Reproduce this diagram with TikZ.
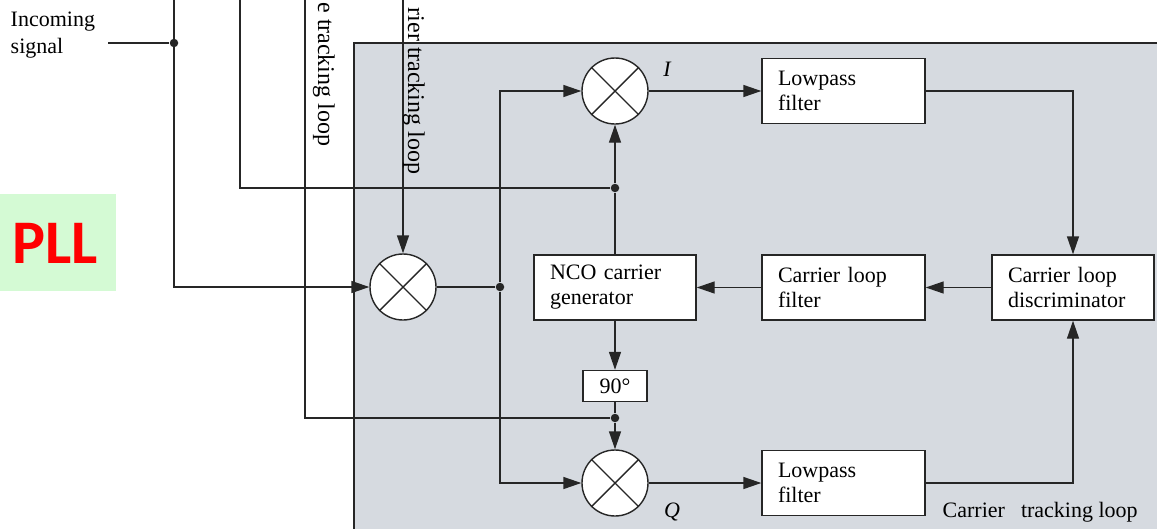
\documentclass[tikz,border=0pt]{standalone}
\usepackage{fontspec}
\setmainfont{Liberation Serif}
\newfontfamily\pllfont{Carlito}
\usetikzlibrary{arrows.meta}
\definecolor{panel}{RGB}{214,218,224}
\definecolor{pllbg}{RGB}{212,250,212}
\definecolor{ink}{RGB}{38,38,38}
\begin{document}
\begin{tikzpicture}[x=1pt,y=-1pt, line width=1.4pt, draw=ink,
  every node/.style={font=\fontsize{22}{25}\selectfont, text=black},
  blk/.style={draw=ink, fill=white, minimum height=65pt, inner xsep=16pt, align=left},
  mixer/.style={circle, draw=ink, fill=white, minimum size=66pt, inner sep=0pt},
  arr/.style={-{Triangle[length=18pt,width=12pt]}},
  dot/.style={circle, fill=ink, draw=none, inner sep=0pt, minimum size=8.5pt},
  vtext/.style={rotate=-90, anchor=base east, inner sep=0pt, font=\fontsize{24}{26}\selectfont}]
\useasboundingbox (0,0) rectangle (1157,528);
\clip (0,0) rectangle (1157,528);
% shaded carrier loop panel
\fill[panel] (354,43) rectangle (1180,550);
\draw (354,550) -- (354,43) -- (1180,43);
% PLL tag
\fill[pllbg] (0,194) rectangle (116,291);
\node[font=\pllfont\bfseries\fontsize{62}{62}\selectfont, text=red] (pll) at (55,243) {PLL};
% blocks
\node[mixer] (m1) at (403,287) {};
\node[mixer] (mI) at (615,91) {};
\node[mixer] (mQ) at (615,483) {};
\foreach \m in {m1,mI,mQ}{
  \draw (\m.north west) -- (\m.south east) (\m.north east) -- (\m.south west);}
\node[blk, text width=131pt] (lpI) at (843.5,91) {Lowpass\\filter};
\node[blk, text width=131pt] (lpQ) at (843.5,483) {Lowpass\\filter};
\node[blk, text width=131pt] (clf) at (843.5,287.5) {Carrier loop\\filter};
\node[blk, text width=130pt] (nco) at (615,287.5) {NCO carrier\\generator};
\node[blk, text width=130pt] (disc) at (1073,287.5) {Carrier loop\\discriminator};
\node[draw=ink, fill=white, minimum width=64pt, minimum height=31pt, inner sep=0pt] (deg) at (615,386) {90°};
% outer loops
\coordinate (inc) at (108,43);
\coordinate (t1) at (174,0);
\coordinate (t2) at (240,0);
\coordinate (t3) at (305,0);
\coordinate (t4) at (403,0);
\node[dot] (d1) at (174,43) {};
\node[dot] (dI) at (615,188) {};
\node[dot] (dQ) at (615,418) {};
\node[dot] (dS) at (500,287) {};
\draw (inc) -- (d1);
\draw[arr] (t1) |- (m1.west);
\draw (t2) |- (dI);
\draw (t3) |- (dQ);
\draw[arr] (t4) -- (m1.north);
% carrier loop connections
\draw (m1.east) -- (dS);
\draw[arr] (dS) |- (mI.west);
\draw[arr] (dS) |- (mQ.west);
\draw[arr] (mI.east) -- (lpI.west);
\draw[arr] (mQ.east) -- (lpQ.west);
\draw[arr] (lpI.east) -| (disc.north);
\draw[arr] (lpQ.east) -| (disc.south);
\draw[arr] (disc.west) -- (clf.east);
\draw[arr] (clf.west) -- (nco.east);
\draw (nco.north) -- (dI);
\draw[arr] (dI) -- (mI.south);
\draw[arr] (nco.south) -- (deg.north);
\draw (deg.south) -- (dQ);
\draw[arr] (dQ) -- (mQ.north);
% labels
\node[anchor=north west, inner sep=0pt, align=left, font=\fontsize{22}{27}\selectfont] (inctext) at (10,11) {Incoming\\signal};
\node[font=\itshape\fontsize{22}{25}\selectfont] (lI) at (667,69) {I};
\node[font=\itshape\fontsize{22}{25}\selectfont] (lQ) at (672,512) {Q};
\node[anchor=base west, inner sep=0pt] (ctl) at (942,517) {Carrier\hspace{16pt}tracking loop};
\node[vtext] (vt1) at (318,147) {e tracking loop};
\node[vtext] (vt2) at (408,175) {rier tracking loop};
\end{tikzpicture}
\end{document}
